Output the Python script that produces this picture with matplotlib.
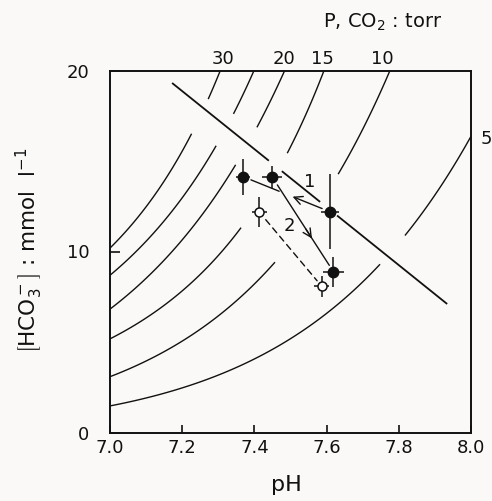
import numpy as np
import matplotlib
matplotlib.use('Agg')
import matplotlib.pyplot as plt

# --- data ---

# PCO2 isobars (torr)
ISOBAR_PCO2 = [30, 25, 20, 15, 10, 5]
ISOBAR_PH = [
    [7.000, 7.226, 7.272, 7.305],
    [7.000, 7.105, 7.294, 7.342, 7.399],
    [7.000, 7.198, 7.348, 7.407, 7.482],
    [7.000, 7.335, 7.363, 7.491, 7.591],
    [7.000, 7.400, 7.457, 7.632, 7.770],
    [7.000, 7.388, 7.573, 7.665, 7.748, 7.817, 7.999],
]
ISOBAR_HCO3 = [
    [10.19, 16.53, 18.37, 20.0],
    [8.70, 10.64, 15.93, 17.54, 20.0],
    [6.81, 10.64, 14.78, 16.75, 20.0],
    [5.17, 10.64, 11.34, 15.28, 20.0],
    [3.08, 8.28, 9.38, 14.13, 19.85],
    [1.48, 3.82, 6.25, 7.78, 9.35, 10.91, 16.16],
]
LABELLED_ISOBARS = [30, 20, 15, 10, 5]

# non-bicarbonate buffer line (end points)
BUFFER_PH = [7.172, 7.934]
BUFFER_HCO3 = [19.31, 7.10]

# mean values +/- error
FILLED_PH = [7.369, 7.449, 7.609, 7.619]
FILLED_HCO3 = [14.13, 14.13, 12.20, 8.88]
FILLED_PH_ERR = [0.020, 0.028, 0.024, 0.030]
FILLED_HCO3_ERR = [1.00, 0.60, 2.07, 0.83]

OPEN_PH = [7.414, 7.586]
OPEN_HCO3 = [12.17, 8.09]
OPEN_PH_ERR = [0.021, 0.020]
OPEN_HCO3_ERR = [0.83, 0.58]

X_TICKS = [7.0, 7.2, 7.4, 7.6, 7.8, 8.0]
X_TICK_LABELS = ['7.0', '7.2', '7.4', '7.6', '7.8', '8.0']
Y_TICKS = [0, 10, 20]
Y_TICK_LABELS = ['0', '10', '20']

# --- layout ---
# drawn pieces of each isobar (gaps where the buffer line / points sit)
ISOBAR_PIECES = [
    [(7.0, 7.226), (7.272, 7.33)],
    [(7.0, 7.294), (7.342, 7.42)],
    [(7.0, 7.348), (7.407, 7.50)],
    [(7.0, 7.363), (7.491, 7.61)],
    [(7.0, 7.457), (7.632, 7.79)],
    [(7.0, 7.748), (7.817, 8.0)],
]
BUFFER_PIECES = [(7.172, 7.440), (7.476, 7.582), (7.629, 7.934)]
ISOBAR_LABEL_POS = {30: (7.312, 20.64), 20: (7.482, 20.64), 15: (7.589, 20.64),
                    10: (7.755, 20.64), 5: (8.042, 16.2)}

BG = '#fbf9f7'
INK = '#111111'


def draw_isobars(ax):
    for ph_pts, hco3_pts, pieces in zip(ISOBAR_PH, ISOBAR_HCO3, ISOBAR_PIECES):
        # smooth trace through the read points (log scale, like an isobar)
        coef = np.polyfit(ph_pts, np.log10(hco3_pts), 2)
        for lo, hi in pieces:
            ph = np.linspace(lo, hi, 120)
            ax.plot(ph, 10 ** np.polyval(coef, ph), color=INK, lw=1.0,
                    solid_capstyle='butt')
    for p in LABELLED_ISOBARS:
        x, y = ISOBAR_LABEL_POS[p]
        ax.text(x, y, str(p), ha='center', va='center', fontsize=13,
                color=INK, clip_on=False)


def draw_buffer_line(ax):
    for lo, hi in BUFFER_PIECES:
        ph = np.array([lo, hi])
        ax.plot(ph, np.interp(ph, BUFFER_PH, BUFFER_HCO3), color=INK, lw=1.3,
                solid_capstyle='butt')


def along(p0, p1, t):
    return (p0[0] + t * (p1[0] - p0[0]), p0[1] + t * (p1[1] - p0[1]))


def seg(ax, start, end, style='-', shrink_a=0, shrink_b=0, ls='-'):
    ax.annotate('', xy=end, xytext=start,
                arrowprops=dict(arrowstyle=style, color=INK, lw=1.0,
                                shrinkA=shrink_a, shrinkB=shrink_b,
                                linestyle=ls))


def draw_paths(ax):
    a = (FILLED_PH[0], FILLED_HCO3[0])
    b = (FILLED_PH[1], FILLED_HCO3[1])
    c = (FILLED_PH[2], FILLED_HCO3[2])
    d = (FILLED_PH[3], FILLED_HCO3[3])
    e = (OPEN_PH[0], OPEN_HCO3[0])
    f = (OPEN_PH[1], OPEN_HCO3[1])
    head = '->,head_length=0.6,head_width=0.3'

    # path 1: C -> A, broken where path 2 crosses
    seg(ax, a, along(a, c, 0.415), shrink_a=6)
    seg(ax, c, along(a, c, 0.57), style=head, shrink_a=6)

    # path 2: B -> D with arrow head part way
    seg(ax, b, d, shrink_a=7, shrink_b=5.5)
    seg(ax, along(b, d, 0.55), along(b, d, 0.65), style=head)

    # dashed: open symbols
    seg(ax, e, f, shrink_a=7, shrink_b=5, ls=(0, (4.5, 3.3)))

    ax.text(7.554, 13.86, '1', ha='center', va='center', fontsize=13, color=INK)
    ax.text(7.497, 11.41, '2', ha='center', va='center', fontsize=13, color=INK)


def draw_points(ax):
    ax.errorbar(FILLED_PH, FILLED_HCO3, yerr=FILLED_HCO3_ERR, xerr=FILLED_PH_ERR,
                fmt='o', ms=7.5, mfc=INK, mec=INK, ecolor=INK, elinewidth=1.1,
                capsize=0, zorder=5)
    ax.errorbar(OPEN_PH, OPEN_HCO3, yerr=OPEN_HCO3_ERR, xerr=OPEN_PH_ERR,
                fmt='o', ms=6.5, mfc='white', mec=INK, mew=1.1, ecolor=INK,
                elinewidth=1.1, capsize=0, zorder=5)


def main():
    fig = plt.figure(figsize=(4.92, 5.01), dpi=100, facecolor=BG)
    ax = fig.add_axes([110 / 492, 68.5 / 501, 361 / 492, 362 / 501], facecolor=BG)

    draw_isobars(ax)
    draw_buffer_line(ax)
    draw_paths(ax)
    draw_points(ax)

    ax.set_xlim(7.0, 8.0)
    ax.set_ylim(0, 20)
    ax.set_xticks(X_TICKS)
    ax.set_xticklabels(X_TICK_LABELS, fontsize=13)
    ax.set_yticks(Y_TICKS)
    ax.set_yticklabels(Y_TICK_LABELS, fontsize=13)
    ax.tick_params(axis='x', direction='in', length=6, width=1.2, pad=5, colors=INK)
    ax.tick_params(axis='y', direction='in', length=7.5, width=1.2, pad=15, colors=INK)
    for sp in ax.spines.values():
        sp.set_linewidth(1.4)
        sp.set_color(INK)

    fig.text(383 / 492, 1 - 22 / 501, r'P, CO$_2$ : torr', ha='center', va='center',
             fontsize=14, color=INK)
    fig.text(286 / 492, 1 - 485 / 501, 'pH', ha='center', va='center',
             fontsize=16, color=INK)
    fig.text(29 / 492, 1 - 250 / 501, r'$\left[\mathrm{HCO_3^-}\right]$ : mmol  l$^{-1}$',
             ha='center', va='center', rotation=90, fontsize=15.5, color=INK)

    fig.savefig('out.png', dpi=100, facecolor=BG)


if __name__ == '__main__':
    main()
